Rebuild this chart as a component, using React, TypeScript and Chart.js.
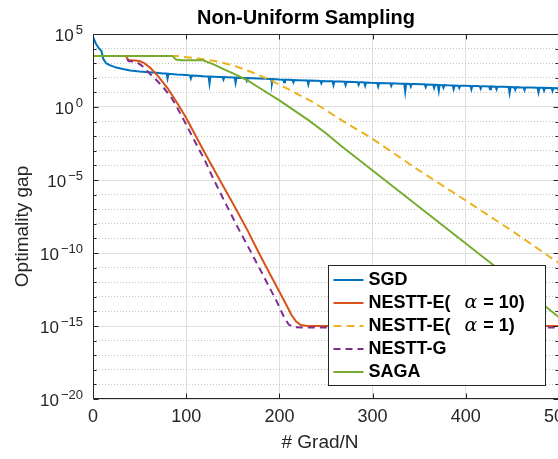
import React, { useEffect, useRef } from "react";
import { Chart, registerables } from "chart.js";

Chart.register(...registerables);

const FONT = '"Liberation Sans", Arial, Helvetica, sans-serif';
const INK = "#262626";

const titleText = "Non-Uniform Sampling";
const xAxisTitle = "# Grad/N";
const yAxisTitle = "Optimality gap";

const xTicks = [0, 100, 200, 300, 400, 500];
const yMajorExponents = [-20, -15, -10, -5, 0, 5];
const yDecadeExponents = [
  -20, -19, -18, -17, -16, -15, -14, -13, -12, -11, -10, -9, -8, -7, -6, -5,
  -4, -3, -2, -1, 0, 1, 2, 3, 4, 5,
];

const seriesLabels = ["SGD", "NESTT-E( α = 10)", "NESTT-E( α = 1)", "NESTT-G", "SAGA"];
const seriesColors = ["#0072BD", "#D95319", "#EDB120", "#7E2F8E", "#77AC30"];

// Each series: x in gradient evaluations / N, value as log10 of the optimality gap
const sgdX = [
  0, 3, 6, 9, 11, 14, 18, 25, 32, 40, 50, 60, 68, 75, 79, 80, 81, 90, 100, 104, 105, 106,
  112, 118, 124, 125, 126, 135, 139, 140, 141, 150, 152, 153, 154, 160, 164, 165, 166, 170,
  178, 185, 191, 192, 193, 200, 204, 205, 206, 210, 214, 215, 216, 220, 230, 231, 232, 240,
  244, 245, 246, 250, 257, 258, 259, 265, 270, 271, 272, 280, 284, 285, 286, 289, 291, 292,
  293, 298, 305, 306, 307, 315, 319, 320, 321, 330, 334, 335, 336, 340, 341, 342, 345, 352,
  356, 357, 358, 365, 366, 367, 370, 371, 372, 375, 376, 377, 380, 386, 387, 388, 392, 393,
  394, 400, 405, 406, 407, 412, 415, 416, 417, 420, 425, 426, 427, 432, 433, 434, 440, 446,
  447, 448, 452, 453, 454, 460, 462, 463, 464, 470, 477, 478, 479, 483, 484, 485, 490, 492,
  493, 494, 499, 500,
];
const sgdLog = [
  4.8, 4.35, 4.05, 3.85, 3.3, 3.0, 2.87, 2.7, 2.6, 2.5, 2.43, 2.38, 2.35, 2.3, 2.29, 1.95,
  2.27, 2.22, 2.19, 2.17, 1.95, 2.16, 2.14, 2.11, 2.09, 1.6, 2.09, 2.06, 2.05, 1.88, 2.05,
  2.02, 2.02, 1.65, 2.01, 1.99, 1.98, 1.8, 1.98, 1.97, 1.96, 1.93, 1.92, 1.6, 1.91, 1.88,
  1.87, 1.7, 1.87, 1.86, 1.85, 1.68, 1.85, 1.84, 1.82, 1.55, 1.81, 1.79, 1.78, 1.62, 1.78,
  1.77, 1.76, 1.5, 1.75, 1.74, 1.73, 1.5, 1.72, 1.71, 1.7, 1.52, 1.7, 1.69, 1.68, 1.45,
  1.68, 1.66, 1.65, 1.4, 1.64, 1.63, 1.62, 1.45, 1.62, 1.6, 1.59, 1.05, 1.59, 1.58, 1.4,
  1.58, 1.57, 1.55, 1.55, 1.36, 1.54, 1.53, 1.3, 1.52, 1.51, 1.1, 1.51, 1.5, 1.32, 1.5,
  1.49, 1.48, 1.22, 1.47, 1.46, 1.3, 1.46, 1.45, 1.44, 1.2, 1.44, 1.43, 1.42, 1.25, 1.42,
  1.42, 1.41, 1.22, 1.41, 1.39, 1.2, 1.39, 1.38, 1.37, 0.95, 1.37, 1.36, 1.18, 1.36, 1.34,
  1.34, 1.15, 1.34, 1.33, 1.32, 1.0, 1.31, 1.31, 1.12, 1.31, 1.3, 1.3, 1.1, 1.3, 1.29, 1.05,
];

const nesttE10X = [
  0, 35, 38, 50, 55, 62, 70, 80, 92, 100, 110, 120, 136, 150, 165, 178, 190, 205, 213, 218,
  223, 230, 300, 400, 500,
];
const nesttE10Log = [
  3.5, 3.5, 3.22, 3.15, 3.0, 2.65, 2.1, 1.3, 0.1, -0.75, -1.95, -3.15, -5.0, -6.6, -8.35,
  -10.0, -11.45, -13.25, -14.25, -14.7, -14.93, -15.0, -15.0, -15.0, -15.0,
];

const nesttE1X = [0, 90, 95, 110, 135, 150, 170, 190, 210, 237, 269, 298, 350, 395, 450, 500];
const nesttE1Log = [
  3.5, 3.5, 3.44, 3.35, 3.1, 2.85, 2.4, 1.85, 1.2, 0.3, -1.0, -2.1, -4.35, -6.2, -8.5, -10.7,
];

const nesttGX = [
  0, 35, 38, 46, 52, 60, 68, 76, 84, 90, 100, 110, 120, 129, 143, 157, 170, 184, 197, 205,
  210, 215, 225, 500,
];
const nesttGLog = [
  3.5, 3.5, 3.15, 3.1, 2.85, 2.35, 1.85, 1.3, 0.65, 0.0, -1.2, -2.45, -3.65, -4.9, -6.7,
  -8.45, -10.0, -11.7, -13.3, -14.4, -14.9, -15.08, -15.1, -15.1,
];

const sagaX = [0, 85, 89, 95, 118, 130, 140, 152, 165, 180, 200, 215, 230, 250, 265, 300, 350, 400, 450, 500];
const sagaLog = [
  3.5, 3.5, 3.25, 3.2, 3.2, 2.9, 2.6, 2.25, 1.85, 1.25, 0.45, -0.2, -0.85, -1.8, -2.6,
  -4.35, -6.85, -9.35, -11.85, -14.4,
];

const toPoints = (xs: number[], logs: number[]) =>
  xs.map((x, i) => ({ x, y: Math.pow(10, logs[i]) }));

const seriesData = [
  toPoints(sgdX, sgdLog),
  toPoints(nesttE10X, nesttE10Log),
  toPoints(nesttE1X, nesttE1Log),
  toPoints(nesttGX, nesttGLog),
  toPoints(sagaX, sagaLog),
];
const seriesDash: number[][] = [[], [], [8, 5], [7, 5], []];

const decadeOf = (v: number) => Math.round(Math.log10(v));

// Boxed axes with inward tick marks, exponent tick labels, axis titles and the legend
const axesDecor = {
  id: "axesDecor",
  afterDatasetsDraw(chart: any) {
    const { ctx, chartArea } = chart;
    const { left, right, top, bottom } = chartArea;
    const xs = chart.scales.x;
    const ys = chart.scales.y;
    const L = Math.round(left) + 0.5;
    const R = Math.round(right) - 0.5;
    const T = Math.round(top) + 0.5;
    const B = Math.round(bottom) - 0.5;
    ctx.save();
    ctx.strokeStyle = INK;
    ctx.lineWidth = 1;
    ctx.setLineDash([]);
    ctx.beginPath();
    ctx.rect(L, T, R - L, B - T);
    for (const v of xTicks) {
      const px = Math.round(xs.getPixelForValue(v)) + 0.5;
      ctx.moveTo(px, B);
      ctx.lineTo(px, B - 5);
      ctx.moveTo(px, T);
      ctx.lineTo(px, T + 5);
    }
    for (const e of yDecadeExponents) {
      const py = Math.round(ys.getPixelForValue(Math.pow(10, e))) + 0.5;
      const len = e % 5 === 0 ? 5 : 3;
      ctx.moveTo(L, py);
      ctx.lineTo(L + len, py);
      ctx.moveTo(R, py);
      ctx.lineTo(R - len, py);
    }
    ctx.stroke();
    ctx.restore();
  },
  afterDraw(chart: any) {
    const { ctx, chartArea } = chart;
    const { left, right, top, bottom } = chartArea;
    const ys = chart.scales.y;
    ctx.save();
    ctx.fillStyle = INK;
    ctx.textBaseline = "alphabetic";
    ctx.textAlign = "left";

    // y tick labels written as powers of ten
    for (const e of yMajorExponents) {
      const py = ys.getPixelForValue(Math.pow(10, e));
      const sup = e < 0 ? "\u2212" + Math.abs(e) : String(e);
      ctx.font = `13px ${FONT}`;
      const wSup = ctx.measureText(sup).width;
      ctx.font = `17px ${FONT}`;
      const wBase = ctx.measureText("10").width;
      const xSup = left - 10 - wSup;
      const xBase = xSup - 2 - wBase;
      ctx.fillText("10", xBase, py + 6.5);
      ctx.font = `13px ${FONT}`;
      ctx.fillText(sup, xSup, py - 0.5);
    }

    // axis titles
    ctx.font = `19px ${FONT}`;
    ctx.textAlign = "center";
    ctx.textBaseline = "middle";
    ctx.fillText(xAxisTitle, (left + right) / 2 - 6, 442.5);
    ctx.save();
    ctx.translate(23, (top + bottom) / 2 + 10);
    ctx.rotate(-Math.PI / 2);
    ctx.fillText(yAxisTitle, 0, 0);
    ctx.restore();

    // legend
    const bx = Math.round(right) - 230.5;
    const by = Math.round(bottom) - 133.5;
    const bw = 217;
    const bh = 120;
    ctx.fillStyle = "#ffffff";
    ctx.fillRect(bx, by, bw, bh);
    ctx.strokeStyle = INK;
    ctx.lineWidth = 1;
    ctx.strokeRect(bx, by, bw, bh);
    chart.data.datasets.forEach((ds: any, i: number) => {
      const cy = by + 14.5 + i * 23;
      ctx.save();
      ctx.strokeStyle = ds.borderColor;
      ctx.lineWidth = 2;
      ctx.setLineDash(ds.borderDash || []);
      ctx.beginPath();
      ctx.moveTo(bx + 5, cy);
      ctx.lineTo(bx + 35, cy);
      ctx.stroke();
      ctx.restore();
      ctx.fillStyle = "#000000";
      ctx.textAlign = "left";
      ctx.textBaseline = "middle";
      let tx = bx + 40;
      const parts = String(ds.label).split("α");
      const bold = `bold 18px ${FONT}`;
      if (parts.length === 2) {
        const head = parts[0].trimEnd();
        const tail = parts[1].trimStart();
        ctx.font = bold;
        ctx.fillText(head, tx, cy);
        tx += ctx.measureText(head).width + 14;
        ctx.font = `italic 19px "DejaVu Serif", "Liberation Serif", serif`;
        ctx.fillText("α", tx, cy);
        tx += ctx.measureText("α").width + 6;
        ctx.font = bold;
        ctx.fillText(tail, tx, cy);
      } else {
        ctx.font = bold;
        ctx.fillText(ds.label, tx, cy);
      }
    });
    ctx.restore();
  },
};

export default function App() {
  const canvasRef = useRef<HTMLCanvasElement | null>(null);

  useEffect(() => {
    const canvas = canvasRef.current;
    if (!canvas) return;
    const chart = new Chart(canvas, {
      type: "line",
      data: {
        datasets: seriesLabels.map((label, i) => ({
          label,
          data: seriesData[i],
          borderColor: seriesColors[i],
          backgroundColor: seriesColors[i],
          borderWidth: 2,
          borderDash: seriesDash[i],
          pointRadius: 0,
          tension: 0,
          fill: false,
          order: seriesLabels.length - i,
          xAxisID: "x",
          yAxisID: "y",
        })),
      },
      options: {
        responsive: false,
        animation: false,
        devicePixelRatio: 1,
        layout: { padding: 0 },
        plugins: {
          legend: { display: false },
          tooltip: { enabled: false },
          title: {
            display: true,
            text: titleText,
            color: "#000000",
            font: { family: FONT, size: 20, weight: "bold" },
            padding: { top: 6, bottom: 4 },
          },
        },
        scales: {
          x: {
            type: "linear",
            position: "bottom",
            min: 0,
            max: 500,
            afterBuildTicks: (scale: any) => {
              scale.ticks = xTicks.map((v) => ({ value: v }));
            },
            afterFit: (scale: any) => {
              scale.height = 60;
            },
            ticks: {
              color: INK,
              font: { family: FONT, size: 18 },
              padding: 7,
              maxRotation: 0,
              autoSkip: false,
            },
            grid: { color: "#dedede", lineWidth: 1, drawTicks: false },
            border: { display: false },
          },
          y: {
            type: "logarithmic",
            position: "left",
            min: 1e-20,
            max: 1e5,
            afterBuildTicks: (scale: any) => {
              scale.ticks = yMajorExponents.map((e) => ({ value: Math.pow(10, e) }));
            },
            afterFit: (scale: any) => {
              scale.width = 93;
            },
            ticks: { display: false },
            grid: { color: "#dedede", lineWidth: 1, drawTicks: false },
            border: { display: false },
          },
          yMinor: {
            type: "logarithmic",
            position: "right",
            min: 1e-20,
            max: 1e5,
            afterBuildTicks: (scale: any) => {
              scale.ticks = yDecadeExponents.map((e) => ({ value: Math.pow(10, e) }));
            },
            afterFit: (scale: any) => {
              scale.width = 53;
            },
            ticks: { display: false },
            grid: {
              drawTicks: false,
              lineWidth: 1,
              color: (ctx: any) =>
                ctx.tick && decadeOf(ctx.tick.value) % 5 === 0 ? "rgba(0,0,0,0)" : "#c4c4c4",
            },
            border: { display: false, dash: [1, 2] },
          },
        },
      },
      plugins: [axesDecor],
    } as any);
    return () => chart.destroy();
  }, []);

  return (
    <div style={{ position: "fixed", left: 0, top: 0, width: 612, height: 459, background: "#ffffff" }}>
      <canvas ref={canvasRef} width={612} height={459} />
    </div>
  );
}
